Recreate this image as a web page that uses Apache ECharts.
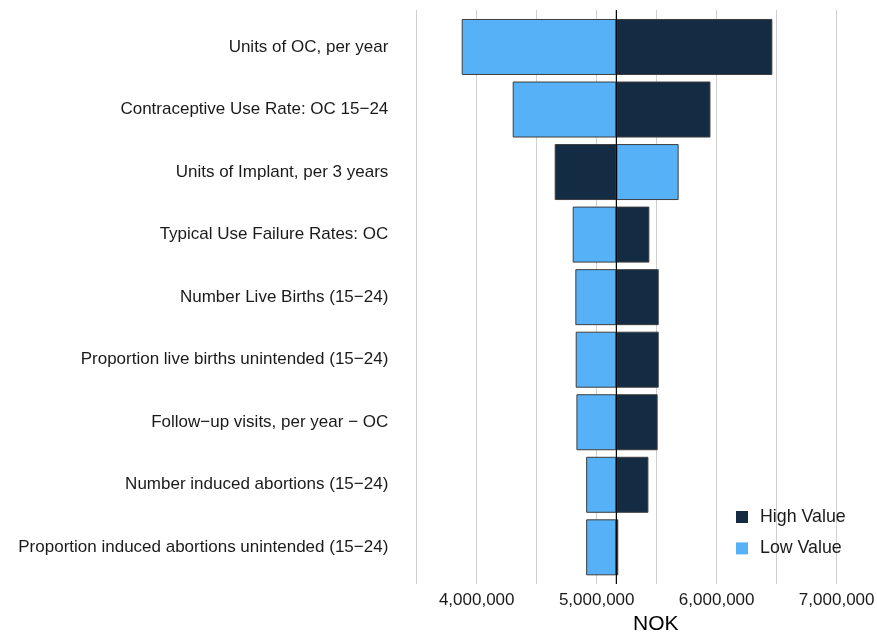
<!DOCTYPE html>
<html>
<head>
<meta charset="utf-8">
<script src="https://cdn.jsdelivr.net/npm/echarts@6/dist/echarts.min.js"></script>
<style>
  html, body { margin: 0; padding: 0; background: #fff; }
  #chart { width: 877px; height: 632px; }
</style>
</head>
<body>
<div id="chart"></div>
<script>
// tornado data (NOK)
const params = [
  'Units of OC, per year',
  'Contraceptive Use Rate: OC 15\u221224',
  'Units of Implant, per 3 years',
  'Typical Use Failure Rates: OC',
  'Number Live Births (15\u221224)',
  'Proportion live births unintended (15\u221224)',
  'Follow\u2212up visits, per year \u2212 OC',
  'Number induced abortions (15\u221224)',
  'Proportion induced abortions unintended (15\u221224)'
];
const lowValues  = [3875000, 4300000, 5683000, 4800000, 4822000, 4825000, 4831000, 4912000, 4912000];
const highValues = [6464000, 5948000, 4650000, 5439000, 5517000, 5517000, 5508000, 5431000, 5180000];
const baseValue = 5164000;
const axisMin = 3500000;
const axisMax = 7336000;
const tickStep = 500000;

const FONT = 'Liberation Sans, Arial, Helvetica, sans-serif';
const DARK = '#132B43';
const LIGHT = '#56B1F7';

function fmt(v) {
  return String(Math.round(v)).replace(/\B(?=(\d{3})+(?!\d))/g, ',');
}

const chart = echarts.init(document.getElementById('chart'));

const option = {
  backgroundColor: '#fff',
  animation: false,
  textStyle: { fontFamily: FONT },
  grid: [
    // bars
    { left: 416.7, right: 0, top: 15.7, height: 562.9, containLabel: false, outerBoundsMode: 'none' },
    // panel for gridlines / axis labels
    { left: 416.7, right: 0, top: 10, height: 574, containLabel: false, outerBoundsMode: 'none' }
  ],
  legend: {
    orient: 'vertical',
    left: 731, top: 503,
    itemWidth: 12, itemHeight: 12, itemGap: 13.4,
    icon: 'rect',
    itemStyle: { borderWidth: 0 },
    textStyle: { fontSize: 17.8, color: '#1a1a1a', fontFamily: FONT, padding: [0, 0, 0, 7] },
    data: ['High Value', 'Low Value']
  },
  xAxis: [
    {
      gridIndex: 0, type: 'value',
      min: axisMin - baseValue, max: axisMax - baseValue,
      axisLine: { show: false }, axisTick: { show: false },
      axisLabel: { show: false }, splitLine: { show: false }
    },
    {
      gridIndex: 1, type: 'value',
      min: axisMin, max: axisMax, interval: tickStep,
      name: 'NOK', nameLocation: 'middle', nameGap: 22,
      nameTextStyle: { fontSize: 21, color: '#000', fontFamily: FONT, padding: [0, 0, 0, 18] },
      axisLine: { show: false }, axisTick: { show: false },
      axisLabel: {
        fontSize: 17, color: '#1a1a1a', margin: 8, fontFamily: FONT,
        showMaxLabel: false,
        formatter: v => (Math.abs(v / 1e6 - Math.round(v / 1e6)) < 1e-6 ? fmt(v) : '')
      },
      splitLine: { show: true, showMaxLine: false, lineStyle: { color: '#cfcfcf', width: 1 } }
    }
  ],
  yAxis: [
    {
      gridIndex: 0, type: 'category', data: params, inverse: true,
      axisLine: { show: false }, axisTick: { show: false },
      axisLabel: { fontSize: 17, color: '#1a1a1a', margin: 28.4, fontFamily: FONT },
      splitLine: { show: false }
    },
    {
      gridIndex: 1, type: 'value', min: 0, max: 1, show: false,
      splitLine: { show: false }
    }
  ],
  series: [
    {
      name: 'High Value', type: 'bar',
      xAxisIndex: 0, yAxisIndex: 0,
      data: highValues.map(v => v - baseValue),
      barWidth: 56, barGap: '-100%',
      itemStyle: { color: DARK, borderColor: '#3d3d3d', borderWidth: 1 }
    },
    {
      name: 'Low Value', type: 'bar',
      xAxisIndex: 0, yAxisIndex: 0,
      data: lowValues.map(v => v - baseValue),
      barWidth: 56, barGap: '-100%',
      itemStyle: { color: LIGHT, borderColor: '#3d3d3d', borderWidth: 1 }
    },
    {
      // base case reference line
      name: 'base', type: 'line',
      xAxisIndex: 1, yAxisIndex: 1, z: 5,
      data: [[baseValue, 0], [baseValue, 1]],
      symbol: 'none',
      lineStyle: { color: '#000', width: 1.2 },
      silent: true
    }
  ]
};

chart.setOption(option);
</script>
</body>
</html>
